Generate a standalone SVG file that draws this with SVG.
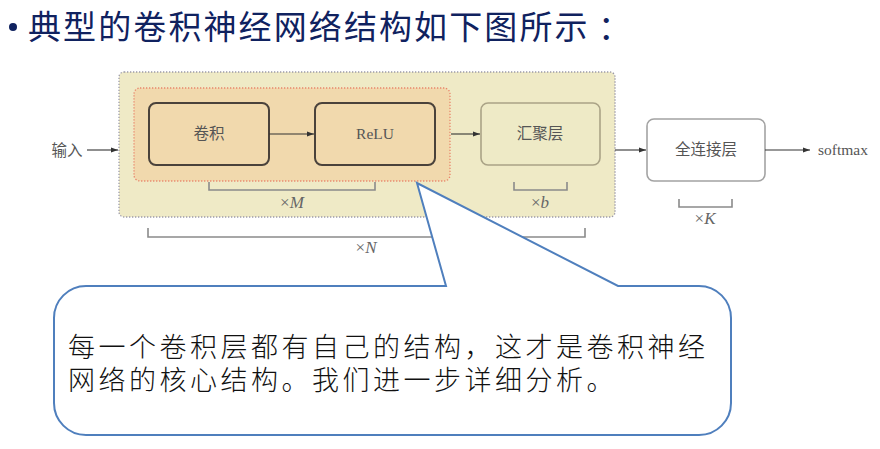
<svg xmlns="http://www.w3.org/2000/svg" width="880" height="449" viewBox="0 0 880 449">
<defs>
<marker id="ah" markerWidth="8" markerHeight="6" refX="7" refY="3" orient="auto" markerUnits="userSpaceOnUse">
<path d="M0,0.5 L7,3 L0,5.5 z" fill="#333"/>
</marker>
<style>
.title{font-family:"Noto Sans CJK SC","Noto Sans",sans-serif;font-size:33px;fill:#10225f}
.lbl{font-family:"Liberation Serif","Noto Sans CJK SC",serif;font-size:15.5px;fill:#555;text-anchor:middle}
.math{font-family:"Liberation Serif",serif;font-size:17px;fill:#666;text-anchor:middle}
.conn{stroke:#333;stroke-width:1.1;fill:none;marker-end:url(#ah)}
.brk{stroke:#8a8a8a;stroke-width:1.6;fill:none}
.note{font-family:"Noto Sans CJK SC",sans-serif;font-size:27px;font-weight:300;fill:#111;letter-spacing:3.5px}
</style>
</defs>
<rect width="880" height="449" fill="#ffffff"/>

<g id="title">
<circle cx="13" cy="27" r="4" fill="#10225f"/>
<text class="title" x="28" y="39" letter-spacing="2.1">典型的卷积神经网络结构如下图所示</text>
<text class="title" x="598" y="39">：</text>
</g>

<g id="repeat-n">
<rect x="119" y="72" width="496" height="145" rx="5" fill="#efeac6" stroke="#9c9aa8" stroke-width="1.3" stroke-dasharray="1.3 1.7"/>
</g>
<g id="repeat-m">
<rect x="134" y="88" width="316" height="93" rx="6" fill="#f1d9ad" stroke="#e8866c" stroke-width="1.3" stroke-dasharray="1.3 1.7"/>
</g>

<g id="conv">
<rect x="149" y="103" width="120" height="62" rx="7" fill="#f1d9ad" stroke="#4a423b" stroke-width="2"/>
<text class="lbl" x="209" y="139">卷积</text>
</g>
<g id="relu">
<rect x="315" y="103" width="120" height="62" rx="7" fill="#f1d9ad" stroke="#4a423b" stroke-width="2"/>
<text class="lbl" x="375" y="139">ReLU</text>
</g>
<g id="pool">
<rect x="481" y="103" width="119" height="62" rx="7" fill="#eeeac6" stroke="#aaa386" stroke-width="1.6"/>
<text class="lbl" x="540" y="139">汇聚层</text>
</g>
<g id="fc">
<rect x="647" y="119" width="118" height="62" rx="7" fill="#ffffff" stroke="#a3a3a3" stroke-width="1.6"/>
<text class="lbl" x="706" y="155">全连接层</text>
</g>
<g id="input">
<text class="lbl" x="67" y="156">输入</text>
</g>
<g id="softmax">
<text class="lbl" x="843" y="155">softmax</text>
</g>

<g id="connectors">
<line class="conn" x1="87" y1="150" x2="118" y2="150"/>
<line class="conn" x1="269" y1="134" x2="314" y2="134"/>
<line class="conn" x1="451" y1="134" x2="480" y2="134"/>
<line class="conn" x1="615" y1="150" x2="646" y2="150"/>
<line class="conn" x1="765" y1="150" x2="810" y2="150"/>
</g>

<g id="brackets">
<path class="brk" d="M209,182 V190 H375 V182"/>
<path class="brk" d="M514,182 V190 H567 V182"/>
<path class="brk" d="M679,199 V207 H732 V199"/>
<path class="brk" d="M148,228 V237 H585 V228"/>
<text class="math" x="292" y="208">×<tspan font-style="italic">M</tspan></text>
<text class="math" x="540" y="208">×<tspan font-style="italic">b</tspan></text>
<text class="math" x="705" y="224">×<tspan font-style="italic">K</tspan></text>
<text class="math" x="366" y="253">×<tspan font-style="italic">N</tspan></text>
</g>

<g id="callout">
<path d="M86,286 L446,286 L417,183 L618,286 L699,286 A32,32 0 0 1 731,318 L731,403 A32,32 0 0 1 699,435 L86,435 A32,32 0 0 1 54,403 L54,318 A32,32 0 0 1 86,286 Z" fill="#ffffff" stroke="#4f7fbd" stroke-width="2"/>
<text class="note" x="68" y="357">每一个卷积层都有自己的结构，这才是卷积神经</text>
<text class="note" x="68" y="390">网络的核心结构。我们进一步详细分析。</text>
</g>
</svg>
